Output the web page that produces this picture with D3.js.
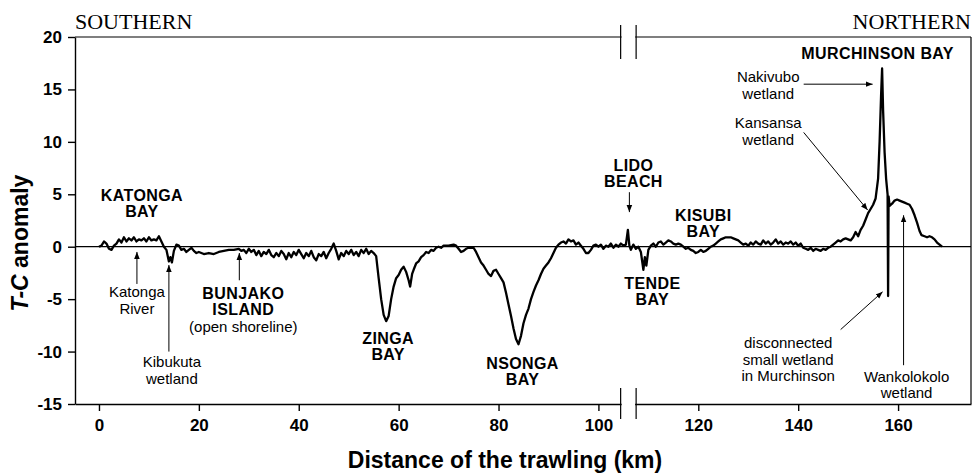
<!DOCTYPE html>
<html>
<head>
<meta charset="utf-8">
<script src="https://cdn.jsdelivr.net/npm/d3@7"></script>
<style>
  body { margin: 0; background: #fff; }
  svg { display: block; }
  .axis path, .axis line { stroke: #000; stroke-width: 1.4; }
  .axis text { font-family: "Liberation Sans", Arial, sans-serif; font-size: 17px; font-weight: bold; fill: #000; }
</style>
</head>
<body>
<svg width="974" height="474"></svg>
<script>
// T-C anomaly along the trawling track (km)
var trackKm = [
  0, 0.5, 1, 1.5, 2, 2.5, 3, 3.5, 4, 4.5, 5, 5.5, 6, 6.5, 7, 7.5, 8, 8.5, 9, 9.5,
  10, 10.5, 11, 11.5, 12, 12.5, 13, 13.5, 14, 14.3, 14.6, 15, 15.5, 16, 16.5, 17, 17.5, 18, 18.5, 19, 19.5,
  20, 21, 22, 23, 24, 25, 26, 27, 28, 28.5, 29, 29.5, 30, 30.5, 31, 31.5,
  32, 32.5, 33, 33.5, 34, 34.5, 35, 35.5, 36, 36.5, 37, 37.5, 38, 38.5, 39, 39.5,
  40, 40.5, 41, 41.5, 42, 42.5, 43, 43.5, 44, 44.5, 45, 45.5, 46, 46.5, 47, 47.5, 48, 48.5, 49, 49.5,
  50, 50.5, 51, 51.5, 52, 52.5, 53, 53.5, 54, 54.5, 55, 55.5, 56, 56.5, 57, 57.5, 58, 58.5, 59, 59.5,
  60, 60.5, 61, 61.5, 62, 62.3, 62.7, 63, 63.5, 64, 64.5, 65, 65.5, 66, 66.5, 67, 67.5, 68, 68.5, 69,
  70, 71, 71.5, 72, 72.5, 73, 73.5, 74, 75, 75.5, 76, 76.5, 77, 77.5, 78, 78.5, 79, 79.5,
  80, 80.5, 81, 81.5, 82, 82.5, 83, 83.5, 84, 84.5, 85, 85.5, 86, 86.5, 87, 87.5, 88, 88.5, 89, 89.5,
  90, 90.5, 91, 91.5, 92, 92.5, 93, 93.5, 94, 94.5, 95, 95.5, 96, 96.5, 97, 97.5, 98, 98.5, 99, 99.5,
  100, 100.5, 101, 101.5, 102, 102.5, 103, 103.5, 104, 104.5, 105, 105.5, 105.9, 106.2, 106.5, 107, 107.5, 108, 108.5,
  109, 109.3, 109.6, 110, 110.5, 111, 111.5, 112, 112.5, 113, 113.5, 114, 114.5, 115, 115.5, 116, 116.5, 117, 117.5,
  118, 118.5, 119, 119.5, 120, 120.5, 121, 121.5, 122, 122.5, 123, 123.5, 124, 124.5, 125, 125.5, 126, 126.5, 127, 127.5,
  128, 128.5, 129, 129.5, 130, 130.5, 131, 131.5, 132, 132.5, 133, 133.5, 134, 134.5, 135, 135.5, 136, 136.5, 137, 137.5,
  138, 138.5, 139, 139.5, 140, 140.5, 141, 141.5, 142, 142.5, 143, 143.5, 144, 144.5, 145, 145.5, 146, 146.5, 147, 147.5,
  148, 148.5, 149, 149.5, 150, 150.5, 151, 151.5, 152, 152.5, 153, 153.5, 154, 154.5, 155, 155.5, 156, 156.3, 156.6, 156.8,
  157, 157.3, 157.6, 157.9, 158, 158.1, 158.3, 158.8, 159.3, 159.8, 160.3, 160.8, 161.3, 161.8, 162.3, 162.8, 163.3, 163.8,
  164.3, 164.7, 165.3, 165.8, 166.3, 166.8, 167.3, 167.8, 168.3, 168.8
];
var anomaly = [
  0, 0.1, 0.5, 0.3, -0.2, -0.3, 0.1, 0.3, 0.7, 0.4, 0.9, 0.5, 0.8, 0.6, 0.9, 0.5, 0.7, 0.6, 0.8, 0.5,
  0.9, 0.6, 0.7, 0.6, 1.0, 0.5, 0.0, -0.3, -1.4, -1.0, -1.5, -0.4, 0.2, 0.1, -0.3, -0.2, -0.5, -0.3, -0.1, -0.4, -0.6,
  -0.5, -0.7, -0.6, -0.7, -0.5, -0.4, -0.3, -0.3, -0.2, -0.4, -0.3, -0.6, -0.2, -0.5, -0.3, -0.8,
  -0.4, -0.9, -0.5, -0.7, -0.3, -0.8, -1.0, -0.6, -0.9, -0.4, -0.7, -1.2, -0.6, -1.0, -0.5, -0.8,
  -0.3, -0.7, -1.1, -0.6, -0.9, -0.4, -1.0, -1.3, -0.7, -0.9, -0.5, -1.1, -0.6, -0.2, 0.3, -0.4, -1.2, -0.6, -0.9, -0.4,
  -0.7, -0.3, -0.8, -0.5, -0.9, -0.3, -0.6, -0.2, -0.7, -0.4, -0.6, -0.9, -3.0, -5.0, -6.5, -7.1, -6.6, -5.0, -3.8, -3.0,
  -2.7, -2.2, -1.9, -2.4, -3.2, -3.8, -2.6, -2.2, -1.6, -1.4, -1.0, -0.8, -0.5, -0.6, -0.3, -0.4, -0.1, 0.0, -0.1, 0.1,
  0.1, 0.2, 0.1, -0.2, -0.5, -0.4, -0.2, -0.1, -0.1, -0.5, -1.0, -1.5, -1.8, -2.2, -2.6, -2.8, -2.3, -2.2,
  -2.6, -3.0, -3.4, -4.4, -5.5, -6.6, -7.8, -8.8, -9.3, -8.5, -7.3, -6.5, -5.9, -5.0, -4.3, -3.7, -3.2, -2.6, -2.1, -1.8,
  -1.5, -1.1, -0.6, -0.1, 0.2, 0.4, 0.5, 0.3, 0.7, 0.5, 0.6, 0.2, 0.4, 0.1, -0.2, -0.6, -0.6, -0.3, 0.1, 0.2,
  0.0, 0.2, -0.2, 0.1, 0.0, 0.3, -0.1, 0.2, 0.0, 0.3, 0.1, 0.2, 1.6, 0.1, -0.3, 0.2, -0.2, 0.0, -0.5,
  -2.2, -1.0, -1.8, -0.3, 0.1, 0.3, 0.0, 0.4, 0.5, 0.2, 0.4, 0.6, 0.5, 0.3, 0.2, 0.3, 0.2, 0.0, -0.2,
  -0.1, -0.3, -0.4, -0.6, -0.5, -0.3, -0.5, -0.4, -0.2, 0.0, 0.1, 0.3, 0.5, 0.7, 0.8, 0.9, 0.9, 0.9, 0.8, 0.7,
  0.6, 0.4, 0.2, 0.3, 0.1, 0.4, 0.2, 0.5, 0.3, 0.2, 0.6, 0.3, 0.5, 0.2, 0.4, 0.7, 0.3, 0.5, 0.2, 0.4,
  0.3, 0.5, 0.2, 0.4, 0.1, 0.3, -0.1, -0.2, -0.3, -0.1, -0.4, -0.2, -0.3, -0.4, -0.2, -0.3, -0.1, 0.0, 0.2, 0.4,
  0.6, 0.5, 0.7, 0.8, 0.7, 0.6, 0.9, 1.4, 1.0, 1.6, 2.0, 2.6, 3.2, 3.6, 4.0, 4.6, 6.5, 10.0, 14.5, 17.0,
  13.0, 9.0, 6.5, 5.0, -4.7, 4.8, 3.9, 4.1, 4.4, 4.5, 4.4, 4.3, 4.2, 4.1, 4.0, 3.6, 3.0, 2.3,
  1.5, 1.1, 1.0, 0.9, 1.0, 0.9, 0.7, 0.4, 0.2, 0.0
];

var xTicks = [0, 20, 40, 60, 80, 100, 120, 140, 160];
var yTicks = [-15, -10, -5, 0, 5, 10, 15, 20];
var breakKm = 106;

// site labels: first baseline at (km, value); lines wrapped in [] are bold
var labelText = [
  ['[KATONGA', '[BAY'], ['Katonga', 'River'], ['Kibukuta', 'wetland'],
  ['[BUNJAKO', '[ISLAND', '(open shoreline)'], ['[ZINGA', '[BAY'], ['[NSONGA', '[BAY'],
  ['[LIDO', '[BEACH'], ['[TENDE', '[BAY'], ['[KISUBI', '[BAY'], ['[MURCHINSON BAY'],
  ['Nakivubo', 'wetland'], ['Kansansa', 'wetland'],
  ['disconnected', 'small wetland', 'in Murchinson'], ['Wankolokolo', 'wetland']
];
var labelKm =  [8.6, 7.6, 14.6, 28.9, 57.9, 84.8, 107, 110.8, 121, 155.9, 134, 134, 138, 161.7];
var labelVal = [4.37, -4.8, -11.5, -4.98, -9.26, -11.65, 7.23, -4.0, 2.46, 17.9, 15.7, 11.3, -9.7, -12.9];

// pointer arrows: from (km, value) to (km, value)
var arrowFrom = [[7.6, -3.55], [14.0, -10.0], [28.1, -3.2], [106.2, 5.2], [141.1, 15.5], [141.1, 10.9], [148.5, -7.9], [161.1, -11.3]];
var arrowTo =   [[7.6, -0.5], [14.0, -1.75], [28.1, -0.6], [106.2, 3.3], [154.9, 15.5], [153.9, 3.5], [156.9, -4.3], [161.1, 3.0]];

var svg = d3.select('svg');
var padding = { t: 37, r: 3, b: 70, l: 75 };
var width = 974, height = 474;
var sans = '"Liberation Sans", Arial, sans-serif';

var x = d3.scaleLinear().domain([-4.8, 174.6]).range([padding.l, width - padding.r]);
var y = d3.scaleLinear().domain([-15, 20]).range([height - padding.b, padding.t]);

var defs = svg.append('defs');
defs.append('marker')
    .attr('id', 'head')
    .attr('viewBox', '0 0 10 10')
    .attr('refX', 10).attr('refY', 5)
    .attr('markerWidth', 7).attr('markerHeight', 7)
    .attr('markerUnits', 'userSpaceOnUse')
    .attr('orient', 'auto')
    .append('path').attr('d', 'M0,1 L10,5 L0,9 Z').attr('fill', '#000');

// frame: top and right border
svg.append('line')
    .attr('x1', x.range()[0]).attr('x2', x.range()[1])
    .attr('y1', y(20)).attr('y2', y(20))
    .attr('stroke', '#000').attr('stroke-width', 1.2);
svg.append('line')
    .attr('x1', x.range()[1]).attr('x2', x.range()[1])
    .attr('y1', y(20)).attr('y2', y(-15))
    .attr('stroke', '#000').attr('stroke-width', 1.2);

// zero line
svg.append('line')
    .attr('x1', x.range()[0]).attr('x2', x.range()[1])
    .attr('y1', y(0)).attr('y2', y(0))
    .attr('stroke', '#000').attr('stroke-width', 1.3);

var plainNum = function(d) { return String(d); };

svg.append('g').attr('class', 'x axis')
    .attr('transform', 'translate(0,' + y(-15) + ')')
    .call(d3.axisBottom(x).tickValues(xTicks).tickFormat(plainNum).tickSize(7).tickPadding(8).tickSizeOuter(0));

svg.append('g').attr('class', 'y axis')
    .attr('transform', 'translate(' + x.range()[0] + ',0)')
    .call(d3.axisLeft(y).tickValues(yTicks).tickFormat(plainNum).tickSize(7).tickPadding(6).tickSizeOuter(0));

// axis breaks
var gap = 1.55;
[[y(20), -12, 22], [y(-15), -16, 15]].forEach(function(b) {
    svg.append('rect')
        .attr('x', x(breakKm - gap) + 1).attr('y', b[0] - 2)
        .attr('width', x(breakKm + gap) - x(breakKm - gap) - 2).attr('height', 4)
        .attr('fill', '#fff');
    [breakKm - gap, breakKm + gap].forEach(function(k) {
        svg.append('line')
            .attr('x1', x(k)).attr('x2', x(k))
            .attr('y1', b[0] + b[1]).attr('y2', b[0] + b[2])
            .attr('stroke', '#000').attr('stroke-width', 1.2);
    });
});

// the trawl track
var pts = trackKm.map(function(k, i) { return [k, anomaly[i]]; });
svg.append('path')
    .datum(pts)
    .attr('fill', 'none')
    .attr('stroke', '#000')
    .attr('stroke-width', 2.3)
    .attr('stroke-linejoin', 'round')
    .attr('d', d3.line().x(function(d) { return x(d[0]); }).y(function(d) { return y(d[1]); }));

// arrows
arrowFrom.forEach(function(f, i) {
    var t = arrowTo[i];
    svg.append('line')
        .attr('x1', x(f[0])).attr('y1', y(f[1]))
        .attr('x2', x(t[0])).attr('y2', y(t[1]))
        .attr('stroke', '#000').attr('stroke-width', 1)
        .attr('marker-end', 'url(#head)');
});

// labels
labelText.forEach(function(lines, i) {
    var t = svg.append('text')
        .attr('x', x(labelKm[i])).attr('y', y(labelVal[i]))
        .attr('text-anchor', 'middle')
        .style('font-family', sans);
    lines.forEach(function(s, j) {
        var bold = s.charAt(0) === '[';
        t.append('tspan')
            .attr('x', x(labelKm[i]))
            .attr('dy', j === 0 ? 0 : 16.5)
            .style('font-size', bold ? '16px' : '15px')
            .style('font-weight', bold ? 'bold' : 'normal')
            .style('letter-spacing', bold ? '0.4px' : '0')
            .text(bold ? s.slice(1) : s);
    });
});

// compass ends
svg.append('text')
    .attr('x', x.range()[0]).attr('y', 29)
    .style('font-family', '"Liberation Serif", "Times New Roman", serif')
    .style('font-size', '22px')
    .text('SOUTHERN');
svg.append('text')
    .attr('x', x.range()[1]).attr('y', 29)
    .attr('text-anchor', 'end')
    .style('font-family', '"Liberation Serif", "Times New Roman", serif')
    .style('font-size', '22px')
    .text('NORTHERN');

// axis titles
svg.append('text')
    .attr('x', 505).attr('y', 468)
    .attr('text-anchor', 'middle')
    .style('font-family', sans).style('font-size', '23px').style('font-weight', 'bold')
    .text('Distance of the trawling (km)');

var yt = svg.append('text')
    .attr('transform', 'translate(28,243) rotate(-90)')
    .attr('text-anchor', 'middle')
    .style('font-family', sans).style('font-size', '23px').style('font-weight', 'bold');
yt.append('tspan').style('font-style', 'italic').text('T-C');
yt.append('tspan').text(' anomaly');
</script>
</body>
</html>
